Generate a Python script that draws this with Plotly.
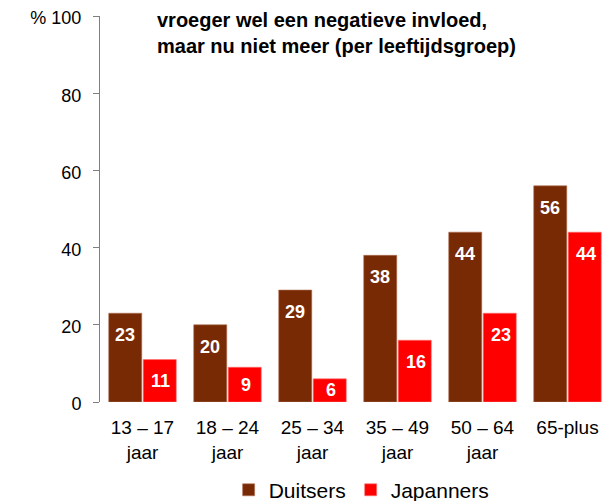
import plotly.graph_objects as go

categories = ["13 – 17<br>jaar", "18 – 24<br>jaar", "25 – 34<br>jaar", "35 – 49<br>jaar", "50 – 64<br>jaar", "65-plus"]
duitsers = [23, 20, 29, 38, 44, 56]
japanners = [11, 9, 6, 16, 23, 44]
tick_vals = [0, 20, 40, 60, 80, 100]
tick_text = ["0", "20", "40", "60", "80", "% 100"]
title_text = "vroeger wel een negatieve invloed,<br>maar nu niet meer (per leeftijdsgroep)"

font_family = "Liberation Sans, Arial, sans-serif"
# page body has an 8px margin, so the figure is sized to fill the 612x501 window
W, H = 604, 493
M = dict(l=92, r=2, t=8, b=99)
plot_h = H - M["t"] - M["b"]
y_max = 100

fig = go.Figure()
fig.add_trace(go.Bar(
    x=categories, y=duitsers, name="Duitsers",
    marker=dict(color="#782A05", line=dict(color="#B07050", width=0.6)),
))
fig.add_trace(go.Bar(
    x=categories, y=japanners, name="Japanners",
    marker=dict(color="#FF0000", line=dict(color="#FF7070", width=0.6)),
))

annotations = []
for vals, shift in ((duitsers, -18), (japanners, 18)):
    for cat, v in zip(categories, vals):
        bar_px = v / y_max * plot_h
        annotations.append(dict(
            x=cat, y=v, xref="x", yref="y", text=f"<b>{v}</b>", showarrow=False,
            xshift=shift, yshift=-min(22, bar_px / 2), yanchor="middle", xanchor="center",
            font=dict(color="white", size=18, family=font_family),
        ))
annotations.append(dict(
    text=f"<b>{title_text}</b>", x=0.108, y=0.955, xref="paper", yref="paper",
    xanchor="left", yanchor="middle", align="left", showarrow=False,
    font=dict(size=20, family=font_family, color="black"),
))

fig.update_layout(
    width=W, height=H, margin=M,
    plot_bgcolor="white", paper_bgcolor="white",
    font=dict(family=font_family, size=19, color="black"),
    barmode="group", bargap=0.188, bargroupgap=0.043,
    showlegend=True,
    legend=dict(orientation="h", x=0.513, xanchor="center", y=0.022, yref="container",
                yanchor="middle", font=dict(size=21), traceorder="normal"),
    annotations=annotations,
)
fig.update_yaxes(
    range=[0, y_max], tickvals=tick_vals, ticktext=tick_text, automargin=False,
    showgrid=False, zeroline=False, showline=True, linecolor="#808080", linewidth=1,
    ticks="outside", ticklen=6, tickcolor="#808080", tickfont=dict(size=18),
    ticklabelstandoff=8, ticklabeloverflow="allow", ticklabelshift=2,
)
fig.update_xaxes(showline=False, showgrid=False, ticks="", tickfont=dict(size=19),
                 automargin=False, ticklabelstandoff=12, ticklabeloverflow="allow")

fig.write_html("out.html")
